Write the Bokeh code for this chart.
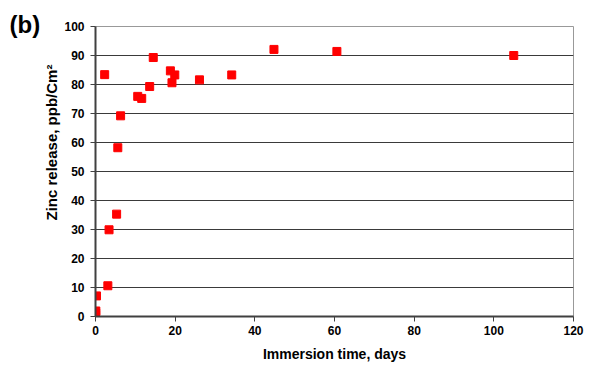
import math
from bokeh.plotting import figure
from bokeh.models import Range1d, Label, FixedTicker, Title
from bokeh.embed import file_html
from bokeh.resources import INLINE

# Data
days = [0.02, 0.05, 0.08, 0.25, 3.1, 3.4, 5.3, 5.6, 6.3, 2.3, 10.6, 11.6, 13.6,
        14.5, 18.8, 19.2, 19.9, 26.1, 34.2, 44.8, 60.6, 105.0]
zinc = [0.5, 1.2, 1.9, 7.1, 10.6, 29.9, 35.3, 58.2, 69.2, 83.4, 75.9, 75.2, 79.3,
        89.3, 84.7, 80.6, 83.3, 81.6, 83.3, 92.1, 91.4, 90.0]
x_ticks = [0, 20, 40, 60, 80, 100, 120]
y_ticks = [0, 10, 20, 30, 40, 50, 60, 70, 80, 90, 100]

FONT = "Liberation Sans"

p = figure(width=614, height=365, output_backend="svg", toolbar_location=None,
           x_range=Range1d(0, 120), y_range=Range1d(0, 100),
           min_border_left=95, min_border_right=41, min_border_top=26,
           min_border_bottom=49)
p.background_fill_color = "white"
p.border_fill_color = "white"
p.outline_line_color = "#999999"
p.outline_line_width = 1

p.scatter(days, zinc, marker="square", size=8, fill_color="#FF0000",
          line_color="#FF0000")

# grid
p.xgrid.visible = False
p.ygrid.ticker = FixedTicker(ticks=y_ticks)
p.ygrid.grid_line_color = "#3a3a3a"
p.ygrid.grid_line_width = 1

for ax, ticks in ((p.xaxis, x_ticks), (p.yaxis, y_ticks)):
    ax.ticker = FixedTicker(ticks=ticks)
    ax.axis_line_color = "#404040"
    ax.axis_line_width = 2
    ax.major_tick_line_color = "#404040"
    ax.major_tick_out = 5
    ax.major_tick_in = 0
    ax.minor_tick_out = 0
    ax.minor_tick_in = 0
    ax.major_label_text_font = FONT
    ax.major_label_text_font_style = "bold"
    ax.major_label_text_font_size = "12px"
    ax.major_label_text_color = "black"

p.yaxis.major_label_standoff = 6
p.xaxis.major_label_standoff = 4

p.xaxis.axis_label = "Immersion time, days"
p.xaxis.axis_label_text_font = FONT
p.xaxis.axis_label_text_font_style = "bold"
p.xaxis.axis_label_text_font_size = "14px"
p.xaxis.axis_label_text_color = "black"
p.xaxis.axis_label_standoff = 8

# y-axis title as a side title (shifted upward like the reference)
ytitle = Title(text="Zinc release, ppb/Cm\u00b2", align="left", offset=96,
               vertical_align="bottom", standoff=4,
               text_font=FONT, text_font_style="bold", text_font_size="15px",
               text_color="black")
p.add_layout(ytitle, "left")

# panel label
p.add_layout(Label(x=2, y=292, x_units="screen", y_units="screen",
                   text="(b)", text_align="left",
                   text_baseline="middle", text_font=FONT, text_font_style="bold",
                   text_font_size="24px", text_color="black"), "left")

open("out.html", "w").write(file_html(p, INLINE))
